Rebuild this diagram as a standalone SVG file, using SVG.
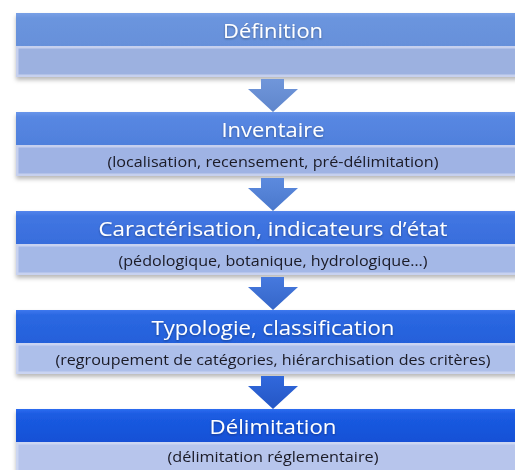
<svg xmlns="http://www.w3.org/2000/svg" width="515" height="470" viewBox="0 0 515 470">
  <defs>
    <filter id="shadow" x="-5%" y="-20%" width="110%" height="150%">
      <feDropShadow dx="0" dy="3" stdDeviation="2" flood-color="#000" flood-opacity="0.28"/>
    </filter>
    <filter id="glow" x="-10%" y="-30%" width="120%" height="160%">
      <feDropShadow dx="0" dy="1" stdDeviation="1" flood-color="#000" flood-opacity="0.35"/>
    </filter>
    <linearGradient id="h1" x1="0" y1="0" x2="0" y2="1"><stop offset="0" stop-color="#78a0e6"/><stop offset="0.15" stop-color="#6b95de"/><stop offset="1" stop-color="#6690da"/></linearGradient>
    <linearGradient id="h2" x1="0" y1="0" x2="0" y2="1"><stop offset="0" stop-color="#6895ea"/><stop offset="0.15" stop-color="#5887e2"/><stop offset="1" stop-color="#4f80dc"/></linearGradient>
    <linearGradient id="h3" x1="0" y1="0" x2="0" y2="1"><stop offset="0" stop-color="#5485ec"/><stop offset="0.15" stop-color="#4176e2"/><stop offset="1" stop-color="#386ddc"/></linearGradient>
    <linearGradient id="h4" x1="0" y1="0" x2="0" y2="1"><stop offset="0" stop-color="#3e78ee"/><stop offset="0.15" stop-color="#2b68e2"/><stop offset="1" stop-color="#2460da"/></linearGradient>
    <linearGradient id="h5" x1="0" y1="0" x2="0" y2="1"><stop offset="0" stop-color="#2e6cf0"/><stop offset="0.15" stop-color="#1b5ce2"/><stop offset="1" stop-color="#1450d6"/></linearGradient>
    <linearGradient id="a1" x1="0" y1="0" x2="0" y2="1"><stop offset="0" stop-color="#7096da"/><stop offset="1" stop-color="#5f86cc"/></linearGradient>
    <linearGradient id="a2" x1="0" y1="0" x2="0" y2="1"><stop offset="0" stop-color="#5c8ade"/><stop offset="1" stop-color="#4a78cc"/></linearGradient>
    <linearGradient id="a3" x1="0" y1="0" x2="0" y2="1"><stop offset="0" stop-color="#4679de"/><stop offset="1" stop-color="#3566c8"/></linearGradient>
    <linearGradient id="a4" x1="0" y1="0" x2="0" y2="1"><stop offset="0" stop-color="#3168dc"/><stop offset="1" stop-color="#2456c4"/></linearGradient>
  </defs>
  <style>
    .title { font-family: "Open Sans", "Liberation Sans", sans-serif; font-size: 19.5px; fill: #ffffff; text-anchor: middle; }
    .detail { font-family: "Open Sans", "Liberation Sans", sans-serif; font-size: 14.5px; fill: #1a1a26; text-anchor: middle; }
    .sub { stroke-width: 2.5; }
  </style>

  <rect width="515" height="470" fill="#ffffff"/>

  <!-- steps -->
  <g id="definition" filter="url(#shadow)">
    <rect x="16" y="13" width="520" height="33" fill="url(#h1)"/>
    <rect class="sub" x="17.25" y="47.25" width="520" height="28.5" fill="#9cb1e0" stroke="#c6d0ee"/>
    <text class="title" x="273" y="38" filter="url(#glow)" textLength="100" lengthAdjust="spacingAndGlyphs">Définition</text>
  </g>

  <g id="inventaire" filter="url(#shadow)">
    <rect x="16" y="112" width="520" height="33" fill="url(#h2)"/>
    <rect class="sub" x="17.25" y="146.25" width="520" height="28.5" fill="#9fb3e4" stroke="#c6d0ee"/>
    <text class="title" x="273" y="137" filter="url(#glow)" textLength="103" lengthAdjust="spacingAndGlyphs">Inventaire</text>
    <text class="detail" x="273" y="167" textLength="331" lengthAdjust="spacingAndGlyphs">(localisation, recensement, pré-délimitation)</text>
  </g>

  <g id="caracterisation" filter="url(#shadow)">
    <rect x="16" y="211" width="520" height="33" fill="url(#h3)"/>
    <rect class="sub" x="17.25" y="245.25" width="520" height="28.5" fill="#a4b8e7" stroke="#c8d2f0"/>
    <text class="title" x="273" y="236" filter="url(#glow)" textLength="349" lengthAdjust="spacingAndGlyphs">Caractérisation, indicateurs d’état</text>
    <text class="detail" x="273" y="266" textLength="309" lengthAdjust="spacingAndGlyphs">(pédologique, botanique, hydrologique…)</text>
  </g>

  <g id="typologie" filter="url(#shadow)">
    <rect x="16" y="310" width="520" height="33" fill="url(#h4)"/>
    <rect class="sub" x="17.25" y="344.25" width="520" height="28.5" fill="#adbfea" stroke="#cad4f2"/>
    <text class="title" x="273" y="335" filter="url(#glow)" textLength="243" lengthAdjust="spacingAndGlyphs">Typologie, classification</text>
    <text class="detail" x="273" y="365" textLength="435" lengthAdjust="spacingAndGlyphs">(regroupement de catégories, hiérarchisation des critères)</text>
  </g>

  <g id="delimitation" filter="url(#shadow)">
    <rect x="16" y="409" width="520" height="33" fill="url(#h5)"/>
    <rect class="sub" x="17.25" y="443.25" width="520" height="30" fill="#b7c5ec" stroke="#ccd6f2"/>
    <text class="title" x="273" y="434" filter="url(#glow)" textLength="127" lengthAdjust="spacingAndGlyphs">Délimitation</text>
    <text class="detail" x="273" y="462" textLength="211" lengthAdjust="spacingAndGlyphs">(délimitation réglementaire)</text>
  </g>

  <!-- block arrows between steps -->
  <g id="connectors">
    <path d="M261,79 H284 V89 H298 L273,112 L248,89 H261 Z" fill="url(#a1)"/>
    <path d="M261,178 H284 V188 H298 L273,211 L248,188 H261 Z" fill="url(#a2)"/>
    <path d="M261,277 H284 V287 H298 L273,310 L248,287 H261 Z" fill="url(#a3)"/>
    <path d="M261,376 H284 V386 H298 L273,409 L248,386 H261 Z" fill="url(#a4)"/>
  </g>
</svg>
